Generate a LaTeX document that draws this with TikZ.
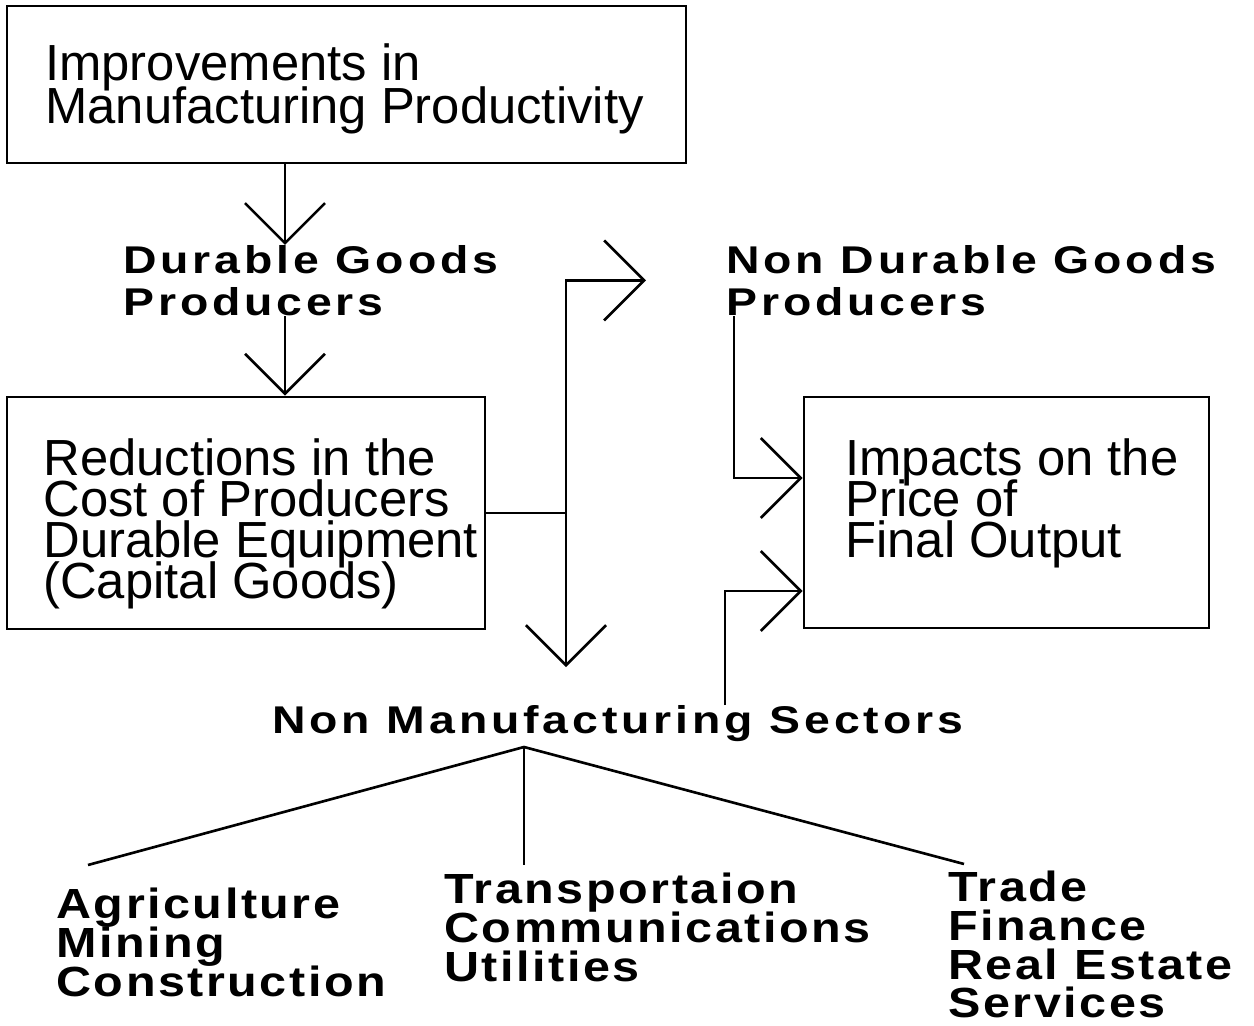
\documentclass[tikz,border=0pt]{standalone}
\usepackage{fontspec}
\setmainfont{Liberation Sans}
\newfontfamily\tagfont{Liberation Sans}[LetterSpace=10,FakeStretch=1.2]
\newfontfamily\sectorfont{Liberation Sans}[LetterSpace=6,FakeStretch=1.15]
\usepackage{tikz}
\usetikzlibrary{arrows.meta,fit}
\newcommand{\tightlines}{\lineskiplimit=-50pt\relax}
\tikzset{
    box/.style={draw,line width=1.5pt,inner sep=0pt},
    boxtext/.style={anchor=north west,inner sep=0pt,align=left,font=\fontsize{28.9}{23.4}\selectfont\tightlines},
    tag/.style={anchor=north west,inner sep=0pt,align=left,font=\tagfont\bfseries\fontsize{22}{23.8}\selectfont\tightlines},
    sector/.style={anchor=north west,inner sep=0pt,align=left,font=\sectorfont\bfseries\fontsize{24}{22}\selectfont\tightlines},
    link/.style={line width=1.5pt},
    arr/.style={line width=1.5pt,-{Straight Barb[length=0.8cm,width=1.6cm]}},
}
\begin{document}
\begin{tikzpicture}[x=0.02cm,y=-0.02cm]
        \useasboundingbox (0,0) rectangle (1254,1026);
        \node[box,fit={(7,6) (686,163)}] (improve) {};
        \node[boxtext,font=\fontsize{28.9}{24.4}\selectfont\tightlines] (improvetxt) at (45,43) {Improvements in\\Manufacturing Productivity};
        \node[tag] (durable) at (123,245) {Durable Goods\\Producers};
        \node[box,fit={(7,397) (485,629)}] (reduce) {};
        \node[boxtext] (reducetxt) at (43,438) {Reductions in the\\Cost of Producers\\Durable Equipment\\(Capital Goods)};
        \node[tag] (nondurable) at (726,245) {Non Durable Goods\\Producers};
        \node[box,fit={(804,397) (1209,628)}] (impacts) {};
        \node[boxtext] (impactstxt) at (845,438) {Impacts on the\\Price of\\Final Output};
        \node[tag] (nonmanuf) at (272,705) {Non Manufacturing Sectors};
        \node[sector] (agri) at (56,888) {Agriculture\\Mining\\Construction};
        \node[sector] (transp) at (444,873) {Transportaion\\Communications\\Utilities};
        \node[sector] (trade) at (948,871) {Trade\\Finance\\Real Estate\\Services};
        \coordinate (spine) at (285,0);
        \coordinate (split) at (566,513);
        \coordinate (feed) at (734,478);
        \coordinate (back) at (725,591);
        \coordinate (hub) at (524,747);
        \draw[arr] (improve.south -| spine) -- (durable.north -| spine);
        \draw[arr] (durable.south -| spine) -- (reduce.north -| spine);
        \draw[link] (reduce.east |- split) -- (split);
        \draw[arr] (split) |- ([xshift=-1.6cm]nondurable.west);
        \draw[arr,shorten >=0.76cm] (split) -- (split |- nonmanuf.north);
        \draw[arr] (nondurable.south -| feed) |- (impacts.west |- feed);
        \draw[arr] (nonmanuf.north -| back) |- (impacts.west |- back);
        \draw[link] ([shift={(32,-23)}]agri.north west) -- (hub) -- ([shift={(16,-7)}]trade.north west);
        \draw[link] (hub) -- ([shift={(80,-8)}]transp.north west);
\end{tikzpicture}
\end{document}
